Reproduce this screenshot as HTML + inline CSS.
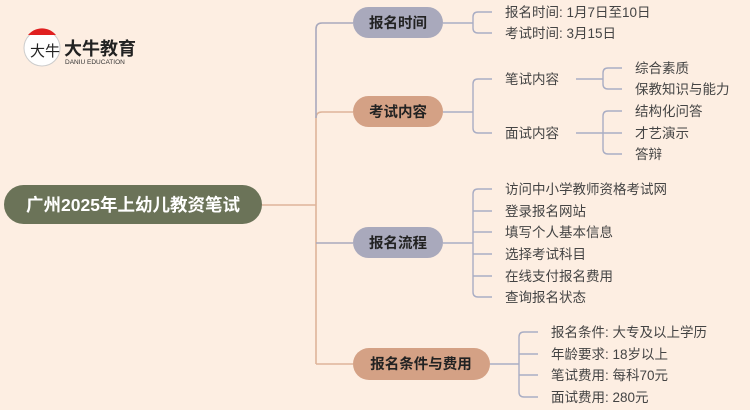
<!DOCTYPE html>
<html><head><meta charset="utf-8"><style>
html,body{margin:0;padding:0;background:#fdeee2;}
svg{display:block}
text{font-family:"Liberation Sans","Noto Sans CJK SC",sans-serif;}
.l{font-size:13.5px;fill:#444;}
.b{font-size:14.5px;font-weight:bold;fill:#222;text-anchor:middle;}
</style></head><body>
<svg width="750" height="410" viewBox="0 0 750 410" xmlns="http://www.w3.org/2000/svg">
<rect width="750" height="410" fill="#fdeee2"/>
<!-- logo -->
<circle cx="42" cy="48" r="18" fill="#fff" stroke="#ccc" stroke-width="1"/>
<path d="M28 35 A18 18 0 0 1 56 35 Z" fill="#e02020"/>
<text x="30" y="56" font-size="15" fill="#222" font-family="Liberation Serif,Noto Serif CJK SC,serif">大牛</text>
<text x="64" y="55" font-size="18" font-weight="bold" fill="#222">大牛教育</text>
<text x="65" y="64" font-size="6.5" fill="#333">DANIU EDUCATION</text>
<!-- trunk -->
<g fill="none" stroke-width="1.6">
<path d="M262 205 H316" stroke="#deb49a"/>
<path d="M316 364 V118 Q316 112 322 112 H353" stroke="#deb49a"/>
<path d="M316 118 V29 Q316 23 322 23 H353" stroke="#a9a9bc"/>
<path d="M316 364 Q316 364 322 364 H353" stroke="#deb49a"/>
<path d="M316 243 H353" stroke="#a9a9bc"/>
</g>
<!-- leaf brackets -->
<g fill="none" stroke="#a9adc4" stroke-width="1.4">
<path d="M443 23 H473"/><path d="M492 12 H478 Q473 12 473 17 V28 Q473 33 478 33 H492"/>
<path d="M443 112 H473"/><path d="M492 79 H478 Q473 79 473 84 V128 Q473 133 478 133 H492"/>
<path d="M576 79 H603"/><path d="M622 68 H608 Q603 68 603 73 V84 Q603 89 608 89 H622"/>
<path d="M576 133 H622"/><path d="M622 111 H608 Q603 111 603 116 V149 Q603 154 608 154 H622"/>
<path d="M443 243 H473"/><path d="M492 189 H478 Q473 189 473 194 V292 Q473 297 478 297 H492"/>
<path d="M473 211 H492 M473 232 H492 M473 254 H492 M473 276 H492"/>
<path d="M490 364 H519"/><path d="M538 332 H524 Q519 332 519 337 V392 Q519 397 524 397 H538"/>
<path d="M519 354 H538 M519 375 H538"/>
</g>
<!-- root -->
<rect x="4" y="185" width="258" height="39" rx="19.5" fill="#6b7358"/>
<text x="133" y="211" font-size="17.5" font-weight="bold" fill="#fff" text-anchor="middle">广州2025年上幼儿教资笔试</text>
<!-- branches -->
<rect x="353" y="7" width="90" height="31" rx="15.5" fill="#a9a9bc"/><text class="b" x="398" y="28">报名时间</text>
<rect x="353" y="96" width="90" height="31" rx="15.5" fill="#d4a185"/><text class="b" x="398" y="117">考试内容</text>
<rect x="353" y="227" width="90" height="31" rx="15.5" fill="#a9a9bc"/><text class="b" x="398" y="248">报名流程</text>
<rect x="353" y="348" width="137" height="32" rx="16" fill="#d4a185"/><text class="b" x="421" y="369">报名条件与费用</text>
<!-- leaves -->
<text class="l" x="505" y="17">报名时间: 1月7日至10日</text>
<text class="l" x="505" y="38">考试时间: 3月15日</text>
<text class="l" x="505" y="84">笔试内容</text>
<text class="l" x="505" y="138">面试内容</text>
<text class="l" x="635" y="73">综合素质</text>
<text class="l" x="635" y="94">保教知识与能力</text>
<text class="l" x="635" y="116">结构化问答</text>
<text class="l" x="635" y="138">才艺演示</text>
<text class="l" x="635" y="159">答辩</text>
<text class="l" x="505" y="194">访问中小学教师资格考试网</text>
<text class="l" x="505" y="216">登录报名网站</text>
<text class="l" x="505" y="237">填写个人基本信息</text>
<text class="l" x="505" y="259">选择考试科目</text>
<text class="l" x="505" y="281">在线支付报名费用</text>
<text class="l" x="505" y="302">查询报名状态</text>
<text class="l" x="551" y="337">报名条件: 大专及以上学历</text>
<text class="l" x="551" y="359">年龄要求: 18岁以上</text>
<text class="l" x="551" y="380">笔试费用: 每科70元</text>
<text class="l" x="551" y="402">面试费用: 280元</text>
</svg>
</body></html>
